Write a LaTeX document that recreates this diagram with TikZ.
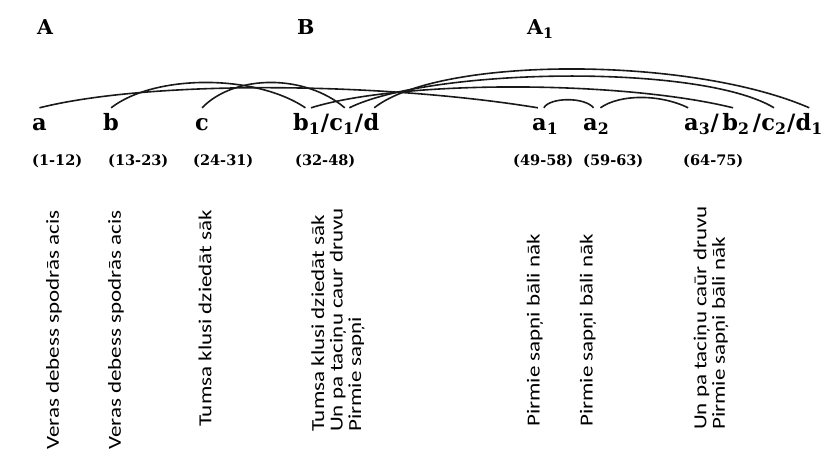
\documentclass[tikz,border=0pt]{standalone}
\usepackage{fontspec}
\setmainfont{DejaVu Serif}
\newfontfamily\versefont{Carlito}
\usetikzlibrary{positioning}

\tikzset{
  lbl/.style={font=\bfseries\fontsize{22.5}{27}\selectfont, inner xsep=0pt, inner ysep=4pt, text height=18pt, text depth=5pt},
  head/.style={font=\bfseries\fontsize{20.5}{24}\selectfont, inner sep=0pt, anchor=base west},
  rng/.style={font=\bfseries\fontsize{14.5}{17}\selectfont, inner sep=0pt, anchor=base west},
  verse/.style={font=\versefont\fontsize{23}{23.1}\selectfont, rotate=90, yscale=0.8, anchor=west, align=left, inner sep=0pt},
  arc/.style={line width=1.6pt, black!90}
}

\begin{document}
\begin{tikzpicture}[x=1pt,y=-1pt]
  \useasboundingbox (0,0) rectangle (826,460);
  \node[head] (A) at (37,35) {A};
  \node[head] (B) at (297,35) {B};
  \node[head] (A1) at (527,35) {A\textsubscript{1}};

  \node[lbl, anchor=base west] (a) at (32,130) {a};
  \node[lbl, anchor=base west] (b) at (103,130) {b};
  \node[lbl, anchor=base west] (c) at (195,130) {c};
  \node[lbl, anchor=base west] (b1) at (293,130) {b\textsubscript{1}};
  \node[lbl, base right=0pt of b1] (s1) {/};
  \node[lbl, base right=0pt of s1] (c1) {c\textsubscript{1}};
  \node[lbl, base right=0pt of c1] (s2) {/};
  \node[lbl, base right=0pt of s2] (d) {d};
  \node[lbl, anchor=base west] (a1) at (532,130) {a\textsubscript{1}};
  \node[lbl, anchor=base west] (a2) at (583,130) {a\textsubscript{2}};
  \node[lbl, anchor=base west] (a3) at (684,130) {a\textsubscript{3}};
  \node[lbl, base right=0pt of a3] (s3) {/};
  \node[lbl, base right=3pt of s3] (b2) {b\textsubscript{2}};
  \node[lbl, base right=3pt of b2] (s4) {/};
  \node[lbl, base right=0pt of s4] (c2) {c\textsubscript{2}};
  \node[lbl, base right=0pt of c2] (s5) {/};
  \node[lbl, base right=0pt of s5] (d1) {d\textsubscript{1}};

  \foreach \n/\x/\t in {1/32/(1-12), 2/108/(13-23), 3/193/(24-31), 4/295/(32-48),
                        5/513/(49-58), 6/583/(59-63), 7/683/(64-75)}
    \node[rng] (r\n) at (\x,165) {\t};

  \draw[arc] (a.north) .. controls (150,80) and (380,82) .. (a1.115);
  \draw[arc] (b.north) .. controls (155,74) and (255,74) .. (b1.95);
  \draw[arc] (c.north) .. controls (235,74) and (305,74) .. (c1.80);
  \draw[arc] (b1.75) .. controls (400,80) and (620,80) .. (b2.100);
  \draw[arc] (c1.65) .. controls (430,68) and (700,63) .. (c2.90);
  \draw[arc] (d.80) .. controls (440,56) and (690,56) .. (d1.90);
  \draw[arc] (a1.95) .. controls (550,97) and (585,97) .. (a2.100);
  \draw[arc] (a2.75) .. controls (620,94) and (660,94) .. (a3.120);

  \node[verse] (v1) at (54,450) {Veras debess spodrās acis};
  \node[verse] (v2) at (116,450) {Veras debess spodrās acis};
  \node[verse] (v3) at (205,427) {Tumsa klusi dziedāt sāk};
  \node[verse] (v4) at (338,432) {Tumsa klusi dziedāt sāk\\Un pa taciņu caur druvu\\Pirmie sapņi};
  \node[verse] (v5) at (535,427) {Pirmie sapņi bāli nāk};
  \node[verse] (v6) at (588,427) {Pirmie sapņi bāli nāk};
  \node[verse] (v7) at (711,430) {Un pa taciņu caūr druvu\\Pirmie sapņi bāli nāk};
\end{tikzpicture}
\end{document}
